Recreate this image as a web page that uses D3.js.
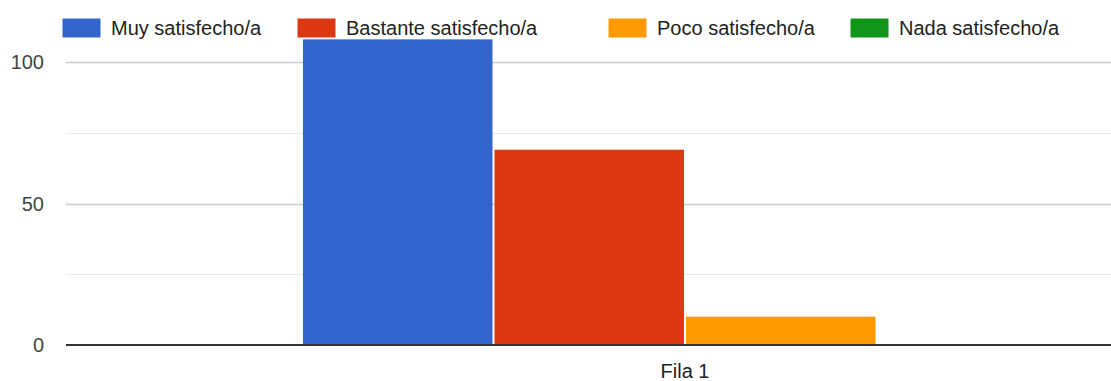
<!DOCTYPE html>
<html>
<head>
<meta charset="utf-8">
<script src="https://cdn.jsdelivr.net/npm/d3@7"></script>
<style>
  html, body { margin: 0; padding: 0; background: #fff; overflow: hidden; }
  svg { display: block; font-family: "Liberation Sans", Arial, sans-serif; }
</style>
</head>
<body>
<div id="chart"></div>
<script>
// Datos del gráfico
const categories = ['Fila 1'];
const seriesNames = ['Muy satisfecho/a', 'Bastante satisfecho/a', 'Poco satisfecho/a', 'Nada satisfecho/a'];
const seriesColors = ['#3366cc', '#dc3912', '#ff9900', '#109618'];
const seriesValues = [[108], [69], [10], [0]];
const majorTicks = [0, 50, 100];
const minorTicks = [25, 75];

const width = 1111;
const height = 381;

const svg = d3.select('#chart')
    .append('svg')
    .attr('width', width)
    .attr('height', height);

// Escalas (el área del gráfico sigue fuera de la captura por la derecha)
const y = d3.scaleLinear().domain([0, 100]).range([345, 62]);
const x = d3.scaleBand().domain(categories).range([66, 1304]).paddingInner(0).paddingOuter(0.308);
const xs = d3.scaleBand().domain(seriesNames).range([0, x.bandwidth()]);

// Líneas de cuadrícula
svg.append('g')
    .selectAll('line.minor')
    .data(minorTicks)
    .enter()
    .append('line')
    .attr('x1', 66).attr('x2', width)
    .attr('y1', d => Math.round(y(d)) + 0.5)
    .attr('y2', d => Math.round(y(d)) + 0.5)
    .attr('stroke', '#ebebeb');

svg.append('g')
    .selectAll('line.major')
    .data(majorTicks.filter(d => d !== 0))
    .enter()
    .append('line')
    .attr('x1', 66).attr('x2', width)
    .attr('y1', d => Math.round(y(d)) + 0.5)
    .attr('y2', d => Math.round(y(d)) + 0.5)
    .attr('stroke', '#cccccc')
    .attr('stroke-width', 1.5);

// Etiquetas del eje Y
svg.append('g')
    .selectAll('text')
    .data(majorTicks)
    .enter()
    .append('text')
    .attr('x', 44)
    .attr('y', d => y(d))
    .attr('dy', '0.36em')
    .attr('text-anchor', 'end')
    .attr('font-size', 20)
    .attr('fill', '#444')
    .text(d => d);

// Barras
const groups = svg.append('g')
    .selectAll('g')
    .data(categories)
    .enter()
    .append('g')
    .attr('transform', d => `translate(${x(d)},0)`);

groups.selectAll('rect')
    .data((c, ci) => seriesNames.map((s, si) => ({ s, si, v: seriesValues[si][ci] })))
    .enter()
    .append('rect')
    .attr('x', d => xs(d.s) + 1)
    .attr('width', xs.bandwidth() - 2)
    .attr('y', d => y(d.v))
    .attr('height', d => y(0) - y(d.v))
    .attr('fill', d => seriesColors[d.si]);

// Línea base
svg.append('line')
    .attr('x1', 66).attr('x2', width)
    .attr('y1', y(0)).attr('y2', y(0))
    .attr('stroke', '#333')
    .attr('stroke-width', 2);

// Etiqueta de categoría
svg.append('g')
    .selectAll('text')
    .data(categories)
    .enter()
    .append('text')
    .attr('x', d => x(d) + x.bandwidth() / 2)
    .attr('y', 378)
    .attr('text-anchor', 'middle')
    .attr('font-size', 20)
    .attr('fill', '#222')
    .text(d => d);

// Leyenda
const legendX = [62, 297, 608, 850];
const legend = svg.append('g')
    .selectAll('g')
    .data(seriesNames)
    .enter()
    .append('g')
    .attr('transform', (d, i) => `translate(${legendX[i]},18)`);

legend.append('rect')
    .attr('width', 39)
    .attr('height', 20)
    .attr('fill', (d, i) => seriesColors[i])
    .attr('stroke', '#fff')
    .attr('stroke-width', 1);

legend.append('text')
    .attr('x', 49)
    .attr('y', 17)
    .attr('font-size', 20)
    .attr('fill', '#222')
    .text(d => d);
</script>
</body>
</html>
